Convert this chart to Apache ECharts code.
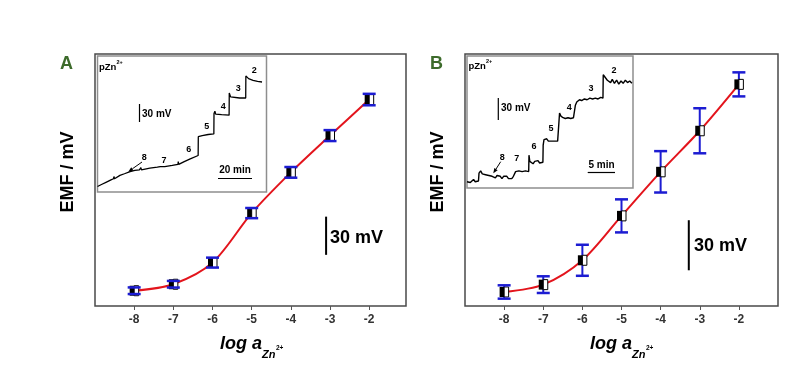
<!DOCTYPE html>
<html>
<head>
<meta charset="utf-8">
<script src="https://cdn.jsdelivr.net/npm/echarts@6/dist/echarts.min.js"></script>
<style>
html,body{margin:0;padding:0;background:#fff;}
#chart{width:789px;height:378px;}
</style>
</head>
<body>
<div id="chart"></div>
<script>
// ---- data ----
const logA = [-8, -7, -6, -5, -4, -3, -2];
const tickLabels = [-8, -7, -6, -5, -4, -3, -2];
// Panel A: EMF (mV, arbitrary offset) and standard deviations
const emfA = [12.0, 17.1, 34.1, 73.0, 105.0, 133.9, 162.2];
const errA = [2.6, 2.6, 3.9, 4.0, 4.2, 4.3, 4.5];
// Panel B
const emfB = [8.4, 12.8, 27.4, 54.0, 80.4, 105.0, 132.8];
const errB = [4.0, 5.0, 9.3, 9.9, 12.4, 13.5, 7.2];
// Inset A: time trace (min, mV)
const traceA = [[0,10],[3,14],[6,18],[9,22],[10.7,24],[11,28],[11.4,24],[15,30],[18,33],[21.8,37],[25,39],[28,40],[29,44],[29.4,40],[30.7,41],[35,43],[40,45],[42,46],[42.3,49],[42.6,46],[45,46],[50,48],[53.8,50],[54,55],[54.3,50],[58,55],[62,60],[67.3,66],[67.4,100],[70,102],[74,104],[77.8,105],[77.9,142],[78.5,146],[79,141],[83,140],[88,139],[88.1,179],[89,172],[90,170],[95,170],[99.1,170],[99.2,210],[101,205],[104,202],[107,200],[110,199]];
// Inset B: time trace (min, mV)
const traceB = [[0,8],[0.3,10],[0.6,7],[0.9,9],[1.2,11],[1.5,8],[1.8,10],[2.1,9],[2.2,19],[2.5,22],[2.8,18],[3.1,20],[3.4,17],[3.7,19],[4.0,16],[4.3,18],[4.6,15],[4.9,16],[5.2,13],[5.5,16],[5.8,14],[6.1,15],[6.4,12],[6.7,15],[7,13],[7.3,15],[7.6,12],[7.9,14],[8.2,12],[8.5,15],[8.8,14],[8.9,21],[9.2,19],[9.5,22],[9.8,20],[10.1,21],[10.4,19],[10.7,22],[11,20],[11.3,21],[11.35,42],[11.5,34],[11.8,36],[12.1,31],[12.4,34],[12.7,32],[13,35],[13.3,32],[13.6,34],[13.9,33],[13.95,55],[14.1,62],[14.3,60],[14.6,63],[14.9,60],[15.2,61],[15.5,60],[15.8,61],[16.2,60],[16.6,60],[16.9,61],[16.95,96],[17.2,92],[17.6,90],[18,89],[18.5,90],[19,89],[19.5,90],[19.8,89],[19.85,106],[20.1,110],[20.3,112],[20.6,113],[21,112],[21.5,114],[22,113],[22.5,115],[23,114],[23.5,115],[24,114],[24.5,116],[24.9,115],[24.95,145],[25.3,143],[25.7,138],[26,140],[26.3,135],[26.6,139],[27,134],[27.4,138],[27.8,133],[28.2,137],[28.6,134],[29,138],[29.4,135],[29.8,137],[30.2,134]];
const stepLabels = ['8','7','6','5','4','3','2'];
const SCALE_MV = 30;

// ---- styles / layout ----
const FONT = '"Liberation Sans", Arial, sans-serif';
const BLUE = '#1c1cd2';
const RED = '#e3141c';
const GREEN = '#3d6b2b';

function pts(xs, ys, es) { return xs.map((x, i) => es ? [x, ys[i], es[i]] : [x, ys[i]]); }

function errRender(params, api) {
  const x = api.value(0), y = api.value(1), e = api.value(2);
  const p = api.coord([x, y]);
  const t = api.coord([x, y + e]);
  const b = api.coord([x, y - e]);
  const cw = 6.5, mw = 9, mh = 10;
  return {
    type: 'group',
    children: [
      {type: 'line', shape: {x1: p[0], y1: t[1], x2: p[0], y2: b[1]}, style: {stroke: BLUE, lineWidth: 2}},
      {type: 'rect', shape: {x: p[0] - mw / 2, y: p[1] - mh / 2, width: mw / 2 + 0.5, height: mh}, style: {fill: '#000'}},
      {type: 'rect', shape: {x: p[0], y: p[1] - mh / 2, width: mw / 2, height: mh}, style: {fill: '#fff', stroke: '#000', lineWidth: 1}},
      {type: 'line', shape: {x1: p[0] - cw, y1: t[1], x2: p[0] + cw, y2: t[1]}, style: {stroke: BLUE, lineWidth: 2.5}},
      {type: 'line', shape: {x1: p[0] - cw, y1: b[1], x2: p[0] + cw, y2: b[1]}, style: {stroke: BLUE, lineWidth: 2.5}}
    ]
  };
}

function mainX(gi, max) {
  return {
    gridIndex: gi, type: 'value', min: -9, max: max,
    axisLine: {show: false}, splitLine: {show: false},
    axisTick: {show: true, inside: false, length: 4, lineStyle: {color: '#555', width: 1}, customValues: tickLabels},
    axisLabel: {customValues: tickLabels, fontWeight: 'bold', fontSize: 12, fontFamily: FONT, color: '#333', margin: 8}
  };
}
function hiddenAxis(gi, min, max) { return {gridIndex: gi, type: 'value', min: min, max: max, show: false}; }

function txt(x, y, text, size, opts) {
  opts = opts || {};
  return {
    type: 'text', x: x, y: y, rotation: opts.rot || 0, z: 100,
    style: {
      text: text, fontSize: size, fontWeight: opts.weight || 'bold', fontStyle: opts.style || 'normal',
      fontFamily: FONT, fill: opts.color || '#000', align: opts.align || 'left', verticalAlign: 'middle'
    }
  };
}
function gline(x1, y1, x2, y2, w) {
  return {type: 'line', z: 100, shape: {x1, y1, x2, y2}, style: {stroke: '#000', lineWidth: w || 1}};
}
function arrow(x1, y1, x2, y2) {
  const dx = x2 - x1, dy = y2 - y1, L = Math.hypot(dx, dy);
  const ux = dx / L, uy = dy / L, bx = x2 - ux * 5, by = y2 - uy * 5;
  return [
    gline(x1, y1, bx, by, 1),
    {type: 'polygon', z: 100, shape: {points: [[x2, y2], [bx + uy * 2, by - ux * 2], [bx - uy * 2, by + ux * 2]]}, style: {fill: '#000'}}
  ];
}

const chart = echarts.init(document.getElementById('chart'), null, {renderer: 'canvas'});

const graphics = [];
[0, 370].forEach((dx, k) => {
  graphics.push(txt(60 + dx, 64, k ? 'B' : 'A', 18, {color: GREEN}));
  graphics.push(txt(68 + dx, 172, 'EMF / mV', 18, {rot: Math.PI / 2, align: 'center'}));
  graphics.push(txt(220 + dx, 344, 'log a', 18, {style: 'italic'}));
  graphics.push(txt(262 + dx, 355, 'Zn', 11, {style: 'italic'}));
  graphics.push(txt(276 + dx, 348.5, '2+', 6.5));
});
// main scale labels
graphics.push(txt(330, 238, SCALE_MV + ' mV', 18));
graphics.push(txt(694, 246, SCALE_MV + ' mV', 18));
// inset A annotations
graphics.push(txt(99, 67, 'pZn', 9.5));
graphics.push(txt(116.5, 62, '2+', 5.5));
graphics.push(gline(139.5, 104, 139.5, 122, 1.2));
graphics.push(txt(142, 114, SCALE_MV + ' mV', 10));
graphics.push(gline(218, 178.5, 252, 178.5, 1.2));
graphics.push(txt(235, 170, '20 min', 10, {align: 'center'}));
const posA = [[144.3,157.7],[164,161],[188.7,150],[206.7,126.7],[223.3,106.7],[238.3,89],[254.3,71]];
stepLabels.forEach((s, i) => graphics.push(txt(posA[i][0], posA[i][1], s, 9, {align: 'center'})));
graphics.push(...arrow(142, 162, 128.3, 171.7));
// inset B annotations
graphics.push(txt(468.5, 66.5, 'pZn', 9.5));
graphics.push(txt(486, 61.5, '2+', 5.5));
graphics.push(gline(498.3, 98, 498.3, 120, 1.2));
graphics.push(txt(501, 108, SCALE_MV + ' mV', 10));
graphics.push(gline(587.7, 172.5, 615, 172.5, 1.2));
graphics.push(txt(601.5, 165, '5 min', 10, {align: 'center'}));
const posB = [[502.3,157.7],[516.7,159],[534,146.7],[551,128.3],[569.3,107.7],[591,88.3],[614,70.7]];
stepLabels.forEach((s, i) => graphics.push(txt(posB[i][0], posB[i][1], s, 9, {align: 'center'})));
graphics.push(...arrow(500.7, 161.7, 493.3, 173.3));

const option = {
  animation: false,
  backgroundColor: '#fff',
  grid: [
    {left: 95, top: 54, width: 311, height: 252, show: true, borderColor: '#4a4a4a', borderWidth: 1.5, backgroundColor: 'transparent'},
    {left: 97.5, top: 56, width: 169, height: 136, show: true, borderColor: '#8e8e8e', borderWidth: 1.5, backgroundColor: '#fff'},
    {left: 465, top: 54, width: 313, height: 252, show: true, borderColor: '#4a4a4a', borderWidth: 1.5, backgroundColor: 'transparent'},
    {left: 467, top: 56, width: 166, height: 132, show: true, borderColor: '#8e8e8e', borderWidth: 1.5, backgroundColor: '#fff'}
  ],
  xAxis: [mainX(0, -1.06), hiddenAxis(1, 0, 113), mainX(2, -1), hiddenAxis(3, 0, 30.4)],
  yAxis: [hiddenAxis(0, 0, 198), hiddenAxis(1, 0, 246), hiddenAxis(2, 0, 151), hiddenAxis(3, 0, 169)],
  series: [
    {type: 'line', xAxisIndex: 0, yAxisIndex: 0, data: pts(logA, emfA), smooth: 0.3, showSymbol: false, lineStyle: {color: RED, width: 2}, z: 2},
    {type: 'custom', xAxisIndex: 0, yAxisIndex: 0, data: pts(logA, emfA, errA), renderItem: errRender, z: 3},
    {type: 'line', xAxisIndex: 0, yAxisIndex: 0, data: [[-3.1, 40.2], [-3.1, 40.2 + SCALE_MV]], showSymbol: false, lineStyle: {color: '#000', width: 2}},
    {type: 'line', xAxisIndex: 1, yAxisIndex: 1, data: traceA, showSymbol: false, lineStyle: {color: '#000', width: 1.3}},
    {type: 'line', xAxisIndex: 2, yAxisIndex: 2, data: pts(logA, emfB), smooth: 0.3, showSymbol: false, lineStyle: {color: RED, width: 2}, z: 2},
    {type: 'custom', xAxisIndex: 2, yAxisIndex: 2, data: pts(logA, emfB, errB), renderItem: errRender, z: 3},
    {type: 'line', xAxisIndex: 2, yAxisIndex: 2, data: [[-3.28, 21.4], [-3.28, 21.4 + SCALE_MV]], showSymbol: false, lineStyle: {color: '#000', width: 2}},
    {type: 'line', xAxisIndex: 3, yAxisIndex: 3, data: traceB, showSymbol: false, lineStyle: {color: '#000', width: 1.4}}
  ],
  graphic: graphics
};
chart.setOption(option);
</script>
</body>
</html>
